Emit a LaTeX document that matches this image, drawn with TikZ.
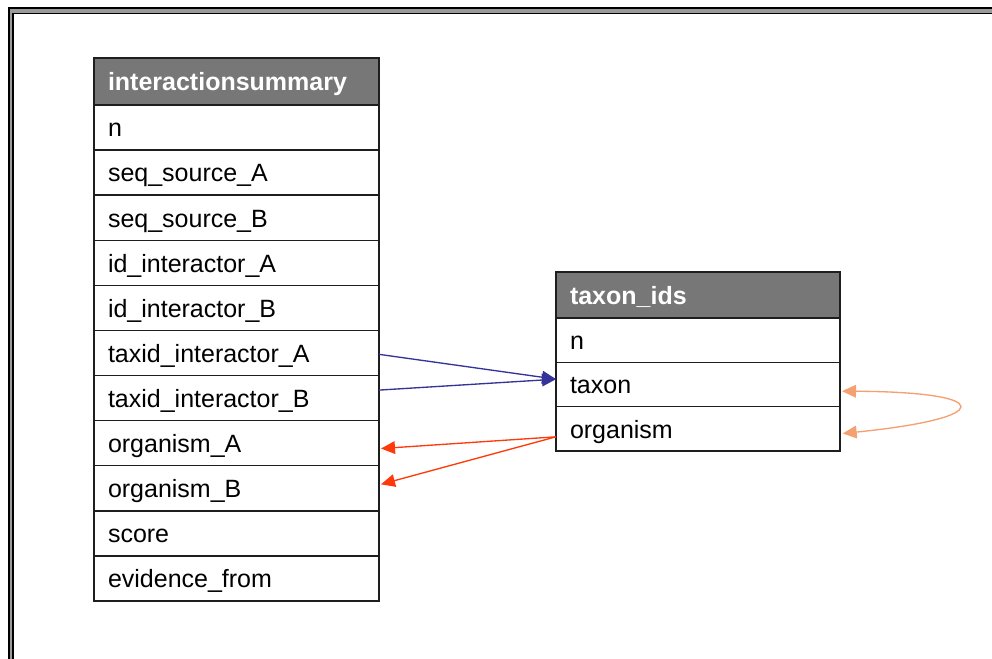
\documentclass[tikz,border=0pt]{standalone}
\usepackage{fontspec}
\setmainfont{Liberation Sans}
\usetikzlibrary{arrows.meta}
\definecolor{hdrgray}{HTML}{777777}
\definecolor{linec}{HTML}{1E1E1E}
\definecolor{fkblue}{HTML}{333399}
\definecolor{fkred}{HTML}{FF3A0A}
\definecolor{fkorange}{HTML}{F4A070}
\definecolor{framegray}{HTML}{9A9A9A}
\begin{document}
\begin{tikzpicture}[x=0.75pt,y=-0.75pt,
  cell/.style={draw=linec, line width=1.1pt, inner xsep=10.5pt, inner ysep=0pt,
    outer sep=0pt, align=left, text height=16pt, text depth=2pt,
    font=\fontsize{18.75}{22}\selectfont},
  hdr/.style={cell, fill=hdrgray, text=white, font=\fontsize{18.75}{22}\selectfont\bfseries},
  fld/.style={cell, fill=white, text=black},
  tabA/.style={text width=192.75pt},
  tabB/.style={text width=192pt},
  rowA/.style={minimum height=33.82pt},
  rowB/.style={minimum height=33.25pt},
  fk/.style={line width=1pt, -{Triangle[length=10.5pt,width=9.5pt]}},
  fkboth/.style={line width=1pt, {Triangle[length=10.5pt,width=9.5pt]}-{Triangle[length=10.5pt,width=9.5pt]}}
]
\useasboundingbox (0,0) rectangle (992,659);

% page frame (runs off the right and bottom edges)
\draw[framegray, line width=3.2pt] (992,10.8) -- (11,10.8) -- (11,659);
\draw[black, line width=1.6pt] (992,8) -- (8.8,8) -- (8.8,659);
\draw[black, line width=1.2pt] (992,13.6) -- (13.2,13.6) -- (13.2,659);

% table: interactionsummary
\node[hdr, tabA, minimum height=35.25pt] (is) at (236.5,81.5) {interactionsummary};
\node[fld, tabA, rowA] (isn)    at (236.5,127.5) {n};
\node[fld, tabA, rowA] (isssa)  at (236.5,172.6) {seq\_source\_A};
\node[fld, tabA, rowA] (isssb)  at (236.5,217.7) {seq\_source\_B};
\node[fld, tabA, rowA] (isida)  at (236.5,262.8) {id\_interactor\_A};
\node[fld, tabA, rowA] (isidb)  at (236.5,307.9) {id\_interactor\_B};
\node[fld, tabA, rowA] (istxa)  at (236.5,353.0) {taxid\_interactor\_A};
\node[fld, tabA, rowA] (istxb)  at (236.5,398.1) {taxid\_interactor\_B};
\node[fld, tabA, rowA] (isorga) at (236.5,443.2) {organism\_A};
\node[fld, tabA, rowA] (isorgb) at (236.5,488.3) {organism\_B};
\node[fld, tabA, rowA] (isscr)  at (236.5,533.4) {score};
\node[fld, tabA, rowA] (isevf)  at (236.5,578.5) {evidence\_from};

% table: taxon_ids
\node[hdr, tabB, minimum height=34.5pt] (tx) at (698,295) {taxon\_ids};
\node[fld, tabB, rowB] (txn)   at (698,340.2) {n};
\node[fld, tabB, rowB] (txtax) at (698,384.5) {taxon};
\node[fld, tabB, rowB] (txorg) at (698,428.8) {organism};

% references
\draw[fk, fkblue] ([yshift=-1pt]istxa.east) -- ([yshift=4pt]txtax.west);
\draw[fk, fkblue] ([yshift=6pt]istxb.east) -- ([yshift=4pt]txtax.west);
\draw[fk, fkred] ([yshift=-6pt]txorg.west) -- ([xshift=1.5pt,yshift=-4pt]isorga.east);
\draw[fk, fkred] ([yshift=-6pt]txorg.west) -- ([xshift=1.5pt,yshift=3pt]isorgb.east);
\draw[fkboth, fkorange] ([xshift=1.5pt,yshift=-5pt]txtax.east)
  .. controls (996,392) and (996,418) .. ([xshift=2pt,yshift=-3.5pt]txorg.east);
\end{tikzpicture}
\end{document}
